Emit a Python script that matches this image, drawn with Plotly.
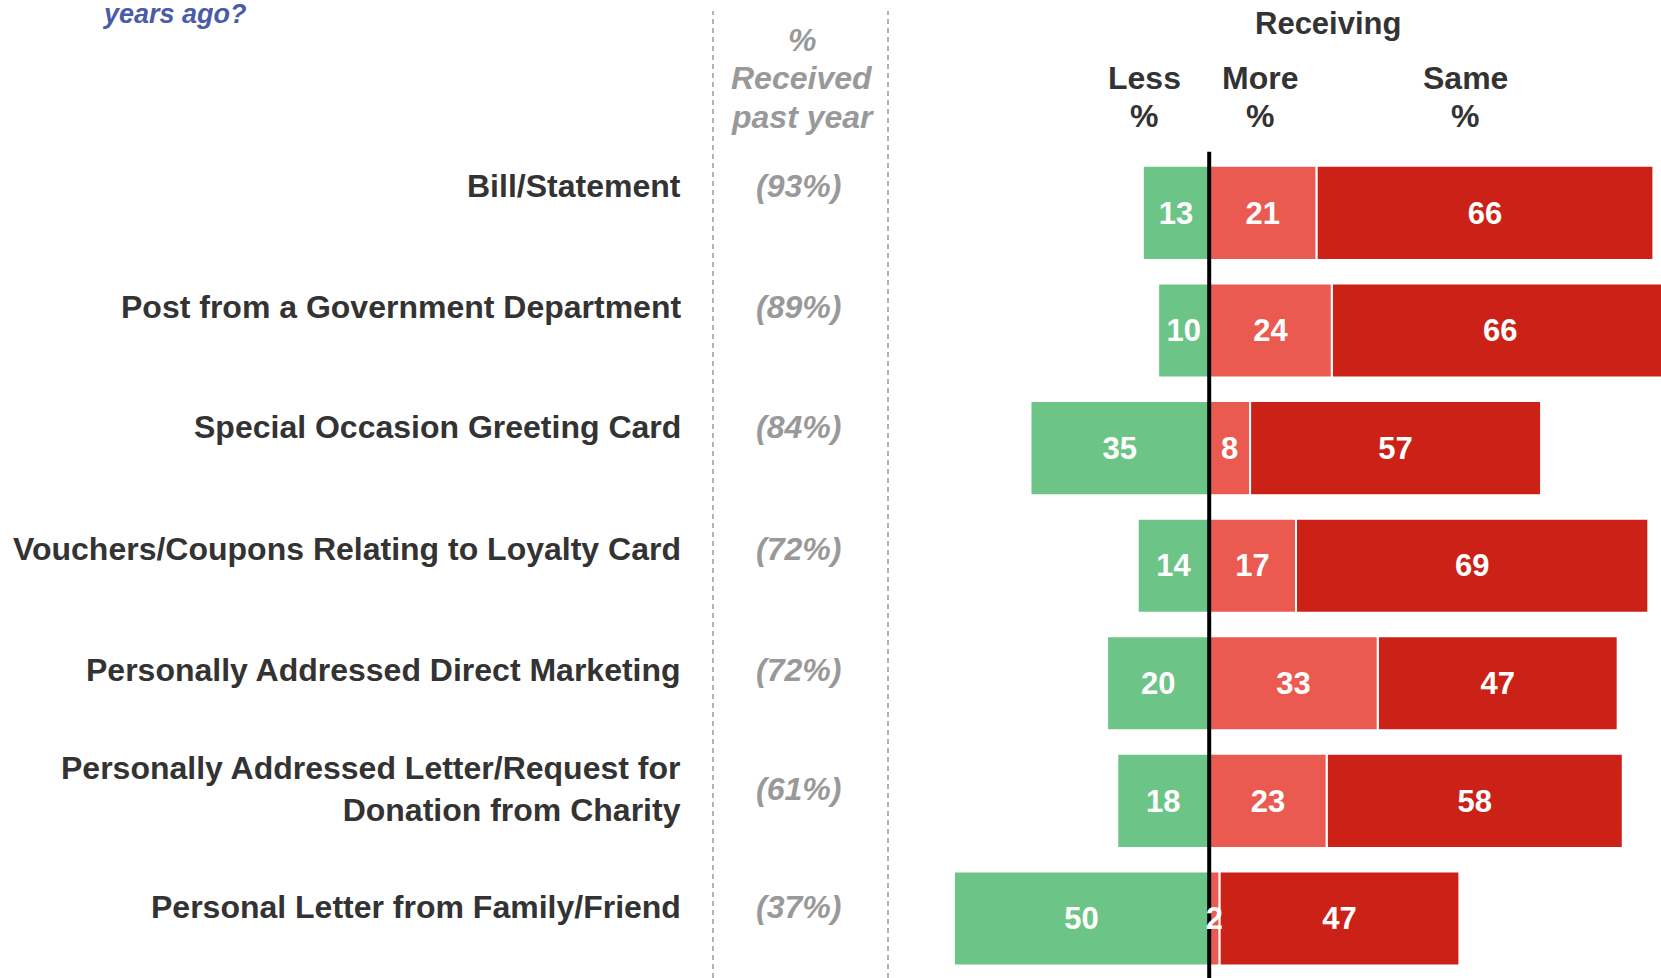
import plotly.graph_objects as go

categories = [
    "Bill/Statement",
    "Post from a Government Department",
    "Special Occasion Greeting Card",
    "Vouchers/Coupons Relating to Loyalty Card",
    "Personally Addressed Direct Marketing",
    "Personally Addressed Letter/Request for<br>Donation from Charity",
    "Personal Letter from Family/Friend",
]
received_past_year = [93, 89, 84, 72, 72, 61, 37]
less = [13, 10, 35, 14, 20, 18, 50]
more = [21, 24, 8, 17, 33, 23, 2]
same = [66, 66, 57, 69, 47, 58, 47]

W, H = 1661, 978
GREEN = "#6CC586"
LRED = "#EB5A50"
DRED = "#CC2116"
DARK = "#333333"
GRAY = "#999999"
FONT = "Liberation Sans, Arial, sans-serif"

ypos = list(range(len(categories)))

fig = go.Figure()
common = dict(
    orientation="h",
    width=0.8,
    marker_line=dict(color="white", width=2),
    hoverinfo="skip",
)
fig.add_trace(go.Bar(y=ypos, x=same, base=more, marker_color=DRED, name="Same", **common))
fig.add_trace(go.Bar(y=ypos, x=more, base=[0] * len(more), marker_color=LRED, name="More", **common))
fig.add_trace(go.Bar(y=ypos, x=less, base=[-v for v in less], marker_color=GREEN, name="Less", **common))

# layout geometry
zero_px = 1209.2
unit_px = 5.106
x_min = -zero_px / unit_px
x_max = (W - zero_px) / unit_px
row0_px = 212.9
row_step = 117.6
y_top = -row0_px / row_step
y_bot = (H - row0_px) / row_step
text_dy = 0.025  # small downward nudge of value labels

def py(px):
    return 1 - px / H

def pxx(px):
    return px / W

# zero line (drawn as a trace so the value labels sit on top of it)
fig.add_trace(go.Scatter(x=[0, 0], y=[-0.52, y_bot], mode="lines",
                         line=dict(color="black", width=4), hoverinfo="skip"))

# value labels at segment centres
lab_x, lab_y, lab_t = [], [], []
for i in ypos:
    lab_x += [-less[i] / 2, more[i] / 2, more[i] + same[i] / 2]
    lab_y += [i + text_dy] * 3
    lab_t += [str(less[i]), str(more[i]), str(same[i])]
fig.add_trace(go.Scatter(x=lab_x, y=lab_y, text=lab_t, mode="text",
                         textposition="middle center",
                         textfont=dict(color="white", size=31, family=FONT, weight="bold"),
                         hoverinfo="skip"))

# dashed separators
for xp in (713, 888):
    fig.add_shape(type="line", x0=pxx(xp), x1=pxx(xp), y0=0, y1=py(11),
                  xref="paper", yref="paper",
                  line=dict(color="#9a9a9a", width=1.5, dash="5px,4px"))

label_y_px = [186.4, 307.2, 426.9, 548.7, 669.5, 789.2, 906.8]
for cat, r, ly in zip(categories, received_past_year, label_y_px):
    fig.add_annotation(x=pxx(683), y=py(ly), xref="paper", yref="paper",
                       text=cat, showarrow=False, xanchor="right", yanchor="middle",
                       align="right",
                       font=dict(size=32, color=DARK, family=FONT, weight="bold"))
    fig.add_annotation(x=pxx(798), y=py(ly), xref="paper", yref="paper",
                       text=f"<i>({r}%)</i>", showarrow=False, xanchor="center",
                       yanchor="middle",
                       font=dict(size=32, color=GRAY, family=FONT, weight="bold"))

# header texts
for txt, yy in (("%", 40), ("Received", 78), ("past year", 117)):
    fig.add_annotation(x=pxx(802), y=py(yy), xref="paper", yref="paper",
                       text=f"<i>{txt}</i>", showarrow=False, xanchor="center",
                       yanchor="middle",
                       font=dict(size=32, color=GRAY, family=FONT, weight="bold"))

fig.add_annotation(x=pxx(1328), y=py(24), xref="paper", yref="paper",
                   text="Receiving", showarrow=False, xanchor="center", yanchor="middle",
                   font=dict(size=31, color=DARK, family=FONT, weight="bold"))
for txt, xc in (("Less", 1144), ("More", 1259.5), ("Same", 1465)):
    fig.add_annotation(x=pxx(xc), y=py(78), xref="paper", yref="paper",
                       text=txt, showarrow=False, xanchor="center", yanchor="middle",
                       font=dict(size=32, color=DARK, family=FONT, weight="bold"))
    fig.add_annotation(x=pxx(xc), y=py(116), xref="paper", yref="paper",
                       text="%", showarrow=False, xanchor="center", yanchor="middle",
                       font=dict(size=32, color=DARK, family=FONT, weight="bold"))

fig.add_annotation(x=pxx(100), y=py(14), xref="paper", yref="paper",
                   text="<i>years ago?</i>", showarrow=False, xanchor="left", yanchor="middle",
                   font=dict(size=27, color="#4A5BAA", family=FONT, weight="bold"))

fig.update_layout(
    width=W, height=H,
    margin=dict(l=0, r=0, t=0, b=0),
    barmode="overlay",
    showlegend=False,
    plot_bgcolor="white",
    paper_bgcolor="white",
    xaxis=dict(range=[x_min, x_max], visible=False, fixedrange=True),
    yaxis=dict(range=[y_bot, y_top], visible=False, fixedrange=True),
)

fig.write_html(
    "out.html",
    config={"displayModeBar": False},
    post_script="document.body.style.margin='0';document.body.style.overflow='hidden';",
)
